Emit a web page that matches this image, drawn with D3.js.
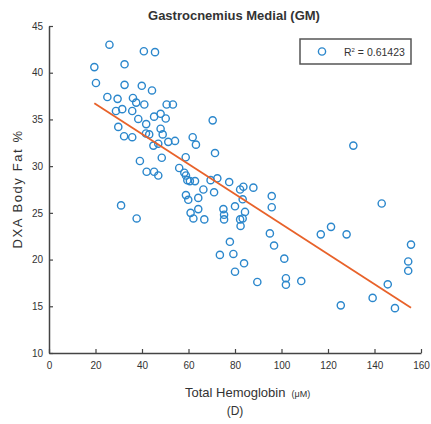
<!DOCTYPE html>
<html>
<head>
<meta charset="utf-8">
<script src="https://cdn.jsdelivr.net/npm/d3@7"></script>
<style>
  html, body { margin: 0; padding: 0; background: #fff; }
  svg { display: block; font-family: "Liberation Sans", Arial, sans-serif; }
</style>
</head>
<body>
<svg id="chart" width="431" height="424"></svg>
<script>
// Total Hemoglobin (µM)
const hemoglobin = [
  26, 40.8, 45.6, 19.5, 32.5, 20.2, 32.5, 39.9, 44.3, 25.1,
  29.5, 36.1, 37.5, 41, 50.6, 53.3, 28.8, 31.5, 35.8, 48,
  45.2, 50.2, 38.4, 41.8, 29.8, 48, 32.3, 35.8, 41.7, 43.1,
  48.9, 44.9, 47, 51.3, 54.2, 48.5, 39.1, 42, 45.2, 47,
  56, 31, 37.7, 61.8, 63.2, 71.4, 58.8, 58.2, 58.9, 59.5,
  60.6, 62.8, 69.5, 72.4, 77.5, 82.2, 83.6, 87.9, 66.4, 71,
  58.9, 59.9, 64.2, 83.3, 95.8, 95.8, 80, 84.3, 64.2, 60.9,
  62.1, 66.8, 75, 75.3, 75.3, 82.2, 83.3, 82.4, 95, 96.8,
  77.8, 73.5, 79.3, 83.9, 80, 101.2, 89.6, 101.9, 101.9, 108.5,
  130.9, 143.1, 116.9, 121.3, 128, 155.7, 154.5, 154.5, 145.7, 139.2,
  125.5, 148.8, 70.4
];
// DXA Body Fat %
const bodyFat = [
  43, 42.3, 42.2, 40.6, 40.9, 38.9, 38.7, 38.6, 38.1, 37.4,
  37.2, 37.3, 36.8, 36.6, 36.6, 36.6, 35.9, 36.1, 35.9, 35.6,
  35.3, 35.1, 35.05, 34.5, 34.2, 34, 33.2, 33.1, 33.5, 33.4,
  33.4, 32.2, 32.4, 32.6, 32.7, 30.9, 30.55, 29.4, 29.4, 29,
  29.8, 25.8, 24.4, 33.1, 32.3, 31.4, 30.95, 29.3, 29.0, 28.5,
  28.4, 28.4, 28.5, 28.7, 28.3, 27.5, 27.8, 27.7, 27.5, 27.2,
  26.9, 26.4, 26.6, 26.45, 26.8, 25.6, 25.7, 25.1, 25.4, 25.0,
  24.4, 24.3, 25.4, 24.8, 24.3, 24.3, 24.4, 23.6, 22.8, 21.5,
  21.9, 20.5, 20.6, 19.6, 18.7, 20.1, 17.6, 18.0, 17.3, 17.7,
  32.2, 26.0, 22.7, 23.5, 22.7, 21.6, 19.8, 18.8, 17.35, 15.9,
  15.1, 14.8, 34.9
];
// Linear fit
const fitIntercept = 39.87;
const fitSlope = -0.1607;
const rSquared = "0.61423";

const xTicks = [0, 20, 40, 60, 80, 100, 120, 140, 160];
const yTicks = [10, 15, 20, 25, 30, 35, 40, 45];

const svg = d3.select("#chart");
const x = d3.scaleLinear().domain([0, 160]).range([49, 421]);
const y = d3.scaleLinear().domain([10, 45]).range([353, 26]);

const axisColor = "#444";
const textColor = "#333";

// X axis
const gx = svg.append("g")
  .attr("transform", `translate(0,${y(10)})`)
  .call(d3.axisBottom(x).tickValues(xTicks).tickSizeInner(-4).tickSizeOuter(0).tickPadding(9));
gx.select(".domain").attr("stroke", axisColor).attr("stroke-width", 1.5);
gx.selectAll(".tick line").attr("stroke", axisColor).attr("stroke-width", 1.2);
gx.selectAll(".tick text").attr("fill", textColor).style("font-size", "10px")
  .attr("font-family", "Liberation Sans, Arial, sans-serif");

// Y axis
const gy = svg.append("g")
  .attr("transform", `translate(${x(0)},0)`)
  .call(d3.axisLeft(y).tickValues(yTicks).tickSizeInner(-4).tickSizeOuter(0).tickPadding(6));
gy.select(".domain").attr("stroke", axisColor).attr("stroke-width", 1.5);
gy.selectAll(".tick line").attr("stroke", axisColor).attr("stroke-width", 1.2);
gy.selectAll(".tick text").attr("fill", textColor).style("font-size", "10px")
  .attr("font-family", "Liberation Sans, Arial, sans-serif");

// Points
const pts = hemoglobin.map((h, i) => ({ h, f: bodyFat[i] }));
svg.append("g").selectAll("circle").data(pts).join("circle")
  .attr("cx", d => x(d.h))
  .attr("cy", d => y(d.f))
  .attr("r", 3.6)
  .attr("fill", "none")
  .attr("stroke", "#2b87cc")
  .attr("stroke-width", 1.4);

// Regression line
const xMin = d3.min(hemoglobin), xMax = d3.max(hemoglobin);
svg.append("line")
  .attr("x1", x(xMin)).attr("y1", y(fitIntercept + fitSlope * xMin))
  .attr("x2", x(xMax)).attr("y2", y(fitIntercept + fitSlope * xMax))
  .attr("stroke", "#e8622a")
  .attr("stroke-width", 1.8);

// Title
svg.append("text")
  .attr("x", 234).attr("y", 20)
  .attr("text-anchor", "middle")
  .attr("fill", textColor)
  .attr("font-weight", "bold")
  .style("font-size", "13px")
  .text("Gastrocnemius Medial (GM)");

// Y title
svg.append("text")
  .attr("transform", `translate(22,189) rotate(-90)`)
  .attr("text-anchor", "middle")
  .attr("fill", textColor)
  .style("font-size", "13px")
  .style("letter-spacing", "1.6px")
  .text("DXA Body Fat %");

// X title
const xt = svg.append("text")
  .attr("x", 185).attr("y", 397)
  .attr("text-anchor", "start")
  .attr("fill", textColor)
  .style("font-size", "13px");
xt.append("tspan").text("Total Hemoglobin");
xt.append("tspan").style("font-size", "9px").attr("dx", 6).text("(\u03BCM)");

svg.append("text")
  .attr("x", 235).attr("y", 415)
  .attr("text-anchor", "middle")
  .attr("fill", textColor)
  .style("font-size", "12px")
  .text("(D)");

// Legend
const lg = svg.append("g");
lg.append("rect")
  .attr("x", 300).attr("y", 39).attr("width", 111).attr("height", 25)
  .attr("fill", "#fff").attr("stroke", "#555").attr("stroke-width", 1.5);
lg.append("circle")
  .attr("cx", 322).attr("cy", 51.5).attr("r", 3.6)
  .attr("fill", "none").attr("stroke", "#2b87cc").attr("stroke-width", 1.4);
const lt = lg.append("text")
  .attr("x", 344).attr("y", 55.5)
  .attr("fill", textColor)
  .style("font-size", "10.5px");
lt.append("tspan").text("R");
lt.append("tspan").attr("dy", -4).style("font-size", "6px").text("2");
lt.append("tspan").attr("dy", 4).text(" = " + rSquared);
</script>
</body>
</html>
